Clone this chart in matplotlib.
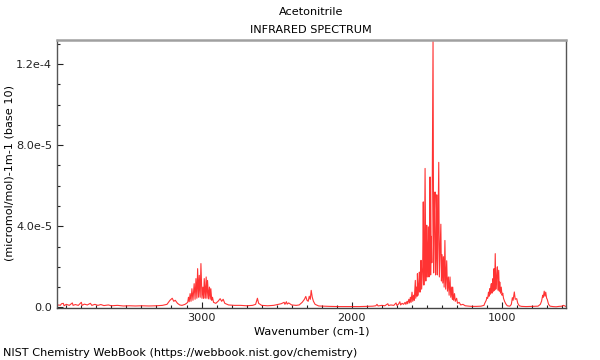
import matplotlib
matplotlib.use("Agg")
import matplotlib.pyplot as plt
from matplotlib.ticker import FixedLocator, MultipleLocator, FuncFormatter
import numpy as np

plt.rcParams['font.family'] = ['DejaVu Sans']

title_main = "Acetonitrile"
title_sub = "INFRARED SPECTRUM"
x_label = "Wavenumber (cm-1)"
y_label = "(micromol/mol)-1m-1 (base 10)"
footer = "NIST Chemistry WebBook (https://webbook.nist.gov/chemistry)"

x_major_ticks = [3000, 2000, 1000]
y_major_ticks = [0.0, 4.0e-5, 8.0e-5, 1.2e-4]
y_tick_labels = ["0.0", "4.0e-5", "8.0e-5", "1.2e-4"]
x_range = [3962, 576]
y_range = [-0.03e-5, 13.18e-5]

# spectrum, wavenumber (cm-1)
wavenumber = [
    3962, 3950, 3940, 3932, 3920, 3915, 3900, 3880, 3860, 3855, 3840, 3820,
    3800, 3795, 3780, 3760, 3740, 3730, 3710, 3690, 3670, 3650, 3620, 3600,
    3560, 3520, 3480, 3440, 3400, 3350, 3300, 3260, 3230, 3210, 3195, 3185,
    3175, 3160, 3145, 3130, 3110, 3100,
    3092, 3087, 3082, 3076, 3070, 3064, 3057, 3049, 3043, 3037, 3031, 3026,
    3020, 3015, 3009, 3004, 2997, 2991, 2986, 2982, 2975, 2969, 2964, 2960,
    2953, 2947, 2942, 2938, 2932, 2927, 2920, 2905, 2890, 2876, 2866, 2856,
    2845, 2820, 2780, 2740, 2700, 2660, 2640, 2628, 2620, 2600, 2560, 2520,
    2490, 2470, 2450, 2445, 2435, 2430, 2420, 2400, 2370, 2350, 2330, 2315,
    2306, 2298, 2290, 2283, 2276, 2270, 2263, 2255, 2244, 2220, 2150, 2080,
    2000, 1950, 1900, 1860, 1840, 1832, 1825, 1800, 1780, 1760, 1755, 1740,
    1720, 1705, 1700, 1690, 1680, 1675, 1665, 1655,
    1645, 1640, 1632, 1628, 1620, 1615, 1610, 1605, 1599, 1594, 1588, 1584,
    1577, 1574, 1568, 1565, 1563, 1558, 1553, 1550, 1546, 1542, 1539, 1535,
    1531, 1528, 1524, 1520, 1516, 1512, 1507, 1504, 1501, 1497, 1490, 1486,
    1482, 1479, 1475, 1471, 1467, 1459, 1455, 1451, 1446, 1442, 1438, 1434,
    1430, 1427, 1421, 1417, 1413, 1407, 1403, 1399, 1394, 1390, 1385, 1380,
    1375, 1368, 1363, 1357, 1352, 1346, 1341, 1335, 1330, 1328, 1322, 1316,
    1311, 1302, 1296, 1285, 1275, 1260, 1245, 1220, 1200, 1170, 1140, 1120,
    1115, 1105, 1100, 1095, 1090, 1086, 1082, 1078, 1075, 1071, 1067, 1064,
    1060, 1056, 1053, 1049, 1045, 1041, 1036, 1031, 1027, 1022, 1018, 1015,
    1010, 1005, 1000, 995, 990, 983, 975, 965, 950,
    945, 938, 931, 926, 918, 912, 902, 895, 885, 870, 840, 800,
    760, 745, 737, 729, 725, 719, 714, 709, 703, 699, 690, 680,
    660, 640, 620, 600, 590, 576,
]

# absorbance, in units of 1e-5 (micromol/mol)-1 m-1
absorbance = [
    0.10, 0.12, 0.10, 0.18, 0.20, 0.08, 0.15, 0.10, 0.22, 0.10, 0.14, 0.10,
    0.25, 0.10, 0.16, 0.12, 0.20, 0.10, 0.15, 0.10, 0.14, 0.09, 0.12, 0.08,
    0.10, 0.07, 0.08, 0.07, 0.08, 0.07, 0.08, 0.10, 0.15, 0.35, 0.45, 0.30,
    0.35, 0.20, 0.12, 0.10, 0.15, 0.20,
    0.25, 0.50, 0.28, 0.68, 0.30, 0.92, 0.35, 1.17, 0.40, 1.42, 0.45, 1.91,
    0.50, 1.58, 0.50, 2.16, 0.45, 1.00, 0.45, 1.42, 0.45, 1.50, 0.45, 1.33,
    0.42, 1.00, 0.40, 0.92, 0.35, 0.50, 0.25, 0.20, 0.30, 0.43, 0.30, 0.40,
    0.20, 0.12, 0.10, 0.10, 0.08, 0.10, 0.15, 0.45, 0.20, 0.10, 0.08, 0.10,
    0.15, 0.18, 0.25, 0.15, 0.28, 0.16, 0.22, 0.12, 0.10, 0.12, 0.25, 0.40,
    0.54, 0.35, 0.30, 0.55, 0.40, 0.84, 0.50, 0.30, 0.15, 0.07, 0.05, 0.04,
    0.04, 0.04, 0.05, 0.06, 0.08, 0.15, 0.07, 0.10, 0.08, 0.18, 0.09, 0.12,
    0.10, 0.22, 0.10, 0.15, 0.28, 0.12, 0.20, 0.15,
    0.25, 0.15, 0.30, 0.18, 0.40, 0.22, 0.50, 0.25, 0.75, 0.30, 0.60, 0.35,
    1.33, 0.45, 1.00, 0.55, 1.66, 0.60, 1.20, 1.74, 0.75, 1.50, 2.32, 0.90,
    1.60, 2.00, 5.20, 1.10, 2.80, 6.85, 1.30, 3.00, 4.05, 1.50, 3.97, 1.50,
    3.00, 6.43, 1.60, 3.50, 2.20, 13.18, 1.70, 4.50, 5.69, 1.60, 2.50, 5.55,
    1.60, 3.00, 7.15, 1.50, 2.50, 4.10, 1.30, 2.60, 1.20, 2.50, 1.00, 3.30,
    0.90, 2.30, 0.80, 1.50, 0.60, 1.50, 0.50, 1.00, 0.40, 1.00, 0.35, 0.68,
    0.30, 0.45, 0.20, 0.25, 0.12, 0.15, 0.08, 0.06, 0.05, 0.05, 0.06, 0.10,
    0.20, 0.35, 0.50, 0.45, 0.75, 0.55, 0.92, 0.65, 1.00, 1.17, 0.70, 1.10,
    1.42, 0.80, 1.91, 0.85, 2.65, 0.90, 1.50, 2.00, 0.85, 1.83, 0.80, 1.25,
    0.70, 1.00, 0.60, 0.70, 0.45, 0.30, 0.18, 0.08, 0.06,
    0.08, 0.15, 0.48, 0.35, 0.76, 0.40, 0.43, 0.20, 0.08, 0.05, 0.04, 0.05,
    0.06, 0.15, 0.30, 0.60, 0.50, 0.80, 0.55, 0.75, 0.45, 0.40, 0.15, 0.06,
    0.04, 0.03, 0.05, 0.06, 0.10, 0.05,
]

scale = 1e-5
x = np.array(wavenumber, dtype=float)
y = np.array(absorbance, dtype=float) * scale

fig = plt.figure(figsize=(6.0, 3.6), dpi=100)
ax = fig.add_axes([57/600, 1 - 308/360, (565.7 - 57)/600, (308 - 40)/360])

ax.plot(x, y, color='#ff0000', lw=0.8, alpha=0.8)

ax.set_xlim(*x_range)
ax.set_ylim(*y_range)

ax.xaxis.set_major_locator(FixedLocator(x_major_ticks))
ax.xaxis.set_minor_locator(MultipleLocator(100))
ax.yaxis.set_major_locator(FixedLocator(y_major_ticks))
ax.yaxis.set_minor_locator(MultipleLocator(1e-5))
ax.yaxis.set_major_formatter(FuncFormatter(
    lambda v, p: y_tick_labels[y_major_ticks.index(min(y_major_ticks, key=lambda t: abs(t - v)))]))
ax.xaxis.set_major_formatter(FuncFormatter(lambda v, p: f"{int(round(v))}"))

fs = 8.1
ax.tick_params(which='both', direction='in', labelsize=fs, colors='#222222')
ax.tick_params(which='major', length=4, width=0.8)
ax.tick_params(which='minor', length=2.5, width=0.8)
ax.tick_params(axis='x', which='both', top=False)
ax.tick_params(axis='y', which='both', right=False)

ax.spines['top'].set_color('#a0a0a0')
ax.spines['top'].set_linewidth(1.8)
ax.spines['right'].set_color('#555555')
ax.spines['right'].set_linewidth(1.0)
ax.spines['left'].set_color('#555555')
ax.spines['left'].set_linewidth(1.0)
ax.spines['bottom'].set_color('#444444')
ax.spines['bottom'].set_linewidth(1.0)

cx = (57 + 565.7) / 2 / 600
fig.text(cx, 1 - 12/360, title_main, ha='center', va='center', fontsize=fs)
fig.text(cx, 1 - 30/360, title_sub, ha='center', va='center', fontsize=fs)
fig.text(cx, 1 - 332/360, x_label, ha='center', va='center', fontsize=fs)
fig.text(10/600, 1 - 173/360, y_label, ha='center', va='center', rotation=90, fontsize=fs)
fig.text(3/600, 1 - 353/360, footer, ha='left', va='center', fontsize=fs)

fig.savefig("out.png", dpi=100)
